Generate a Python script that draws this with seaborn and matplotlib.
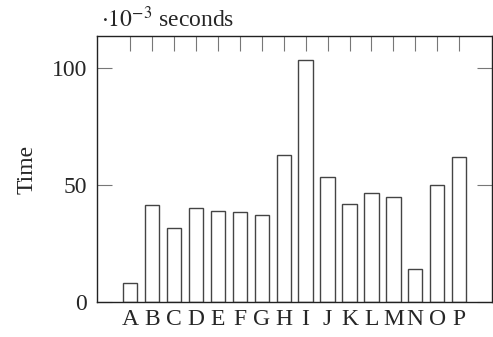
import matplotlib
matplotlib.use("Agg")
import matplotlib.pyplot as plt
import seaborn as sns
import pandas as pd

# values (x 10^-3 seconds)
labels = list("ABCDEFGHIJKLMNOP")
times = [8.1, 41.5, 31.8, 40.2, 39.2, 38.7, 37.2, 63.1, 103.7, 53.5, 42.1, 46.8, 44.9, 14.2, 50.1, 62.1]
yticks = [0, 50, 100]

df = pd.DataFrame({"label": labels, "time": times})

sns.set_style("ticks")
plt.rcParams["font.family"] = ["Liberation Serif", "DejaVu Serif"]
plt.rcParams["mathtext.fontset"] = "stix"

fig = plt.figure(figsize=(4.93, 3.37), dpi=100)
ax = fig.add_axes([0.196, 0.103, 0.801, 0.791])

sns.barplot(data=df, x="label", y="time", order=labels, color="white",
            edgecolor="#444444", linewidth=1.0, width=0.65, saturation=1, ax=ax)

ax.set_xlim(-1.52, 16.47)
ax.set_ylim(0, 114)
ax.set_yticks(yticks)
ax.set_xlabel("")
ax.set_ylabel("Time", fontsize=17, labelpad=10)
ax.tick_params(axis="both", direction="in", length=11, width=0.8, color="#777777",
               labelsize=17, top=True, right=True, pad=7)
ax.tick_params(axis="x", pad=5)
for s in ax.spines.values():
    s.set_visible(True)
    s.set_linewidth(1.0)
    s.set_color("#222222")

fig.text(101 / 493, 1 - 27 / 337, r"$\cdot10^{-3}$ seconds", fontsize=17, va="baseline")

plt.savefig("out.png", dpi=100)
